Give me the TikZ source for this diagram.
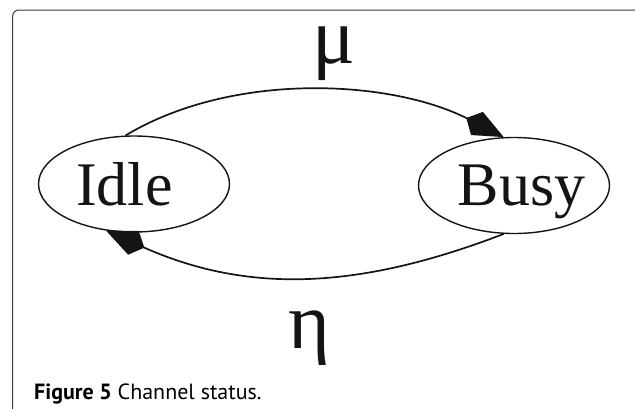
\documentclass[tikz,border=0pt]{standalone}
\usepackage{fontspec}
\setmainfont{Liberation Serif}
\newfontfamily\capfont{PT Sans}
\usetikzlibrary{
  arrows.meta,
  shapes.geometric,
  positioning
}
\definecolor{csFrame}{HTML}{3A3A3A}
\definecolor{csInk}{HTML}{141414}
\tikzset{
  state/.style={
    draw=csInk, ellipse, line width=1.4pt, minimum width=191pt, minimum height=96pt,
    inner sep=0pt
  },
  statetext/.style={font=\fontsize{62}{62}\selectfont, text=csInk, inner sep=0pt, anchor=base},
  rate/.style={font=\fontsize{80}{80}\selectfont, text=csInk, inner sep=0pt, anchor=base},
  trans/.style={-{Kite[length=42pt, width=26pt, inset=12pt]}, line width=1.7pt, csInk},
  frame/.style={draw=csFrame, line width=1pt, rounded corners=6pt},
  caption/.style={font=\capfont\fontsize{22}{22}\selectfont, text=black, anchor=base west, inner sep=0pt}
}
\begin{document}
\begin{tikzpicture}[x=1pt, y=-1pt]
  \useasboundingbox (0,0) rectangle (635,408);
  \draw[frame] (12.7,10) rectangle (640,440);
  % states
  \node[state] (idle) at (134,184) {};
  \node[state] (busy) at (514,185.5) {};
  \node[statetext] (idletxt) at (124.5,205) {Idle};
  \node[statetext] (busytxt) at (521.5,205) {Busy};
  % transitions
  \draw[trans] (idle.100) to[out=31, in=153, looseness=0.85] (busy.102);
  \draw[trans] (busy.258) to[out=201, in=-24] (idle.239);
  \node[rate] (mu) at (333.5,63) {μ};
  \node[rate] (eta) at (309.5,348) {η};
  \node[caption] (cap) at (34,399) {\textbf{Figure 5} Channel status.};
\end{tikzpicture}
\end{document}
